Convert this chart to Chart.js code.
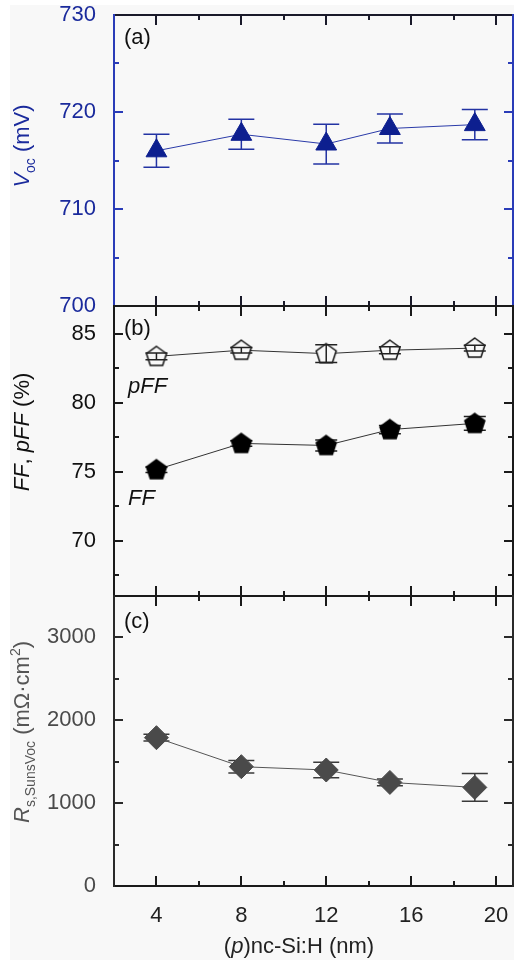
<!DOCTYPE html>
<html>
<head>
<meta charset="utf-8">
<script src="https://cdn.jsdelivr.net/npm/chart.js@4.4.1/dist/chart.umd.min.js"></script>
<style>
html, body { margin: 0; padding: 0; background: #fff; }
#wrap { position: relative; width: 514px; height: 960px; background: #fff; overflow: hidden; }
#bg { position: absolute; left: 10px; top: 5px; right: 0; bottom: 0; background: #f8f8f8; }
canvas { position: absolute; left: 0; }
</style>
</head>
<body>
<div id="wrap">
	<div id="bg"></div>
	<canvas id="chartA" width="514" height="320" style="top:0px"></canvas>
	<canvas id="chartB" width="514" height="320" style="top:290px"></canvas>
	<canvas id="chartC" width="514" height="380" style="top:580px"></canvas>
</div>
<script>
// (p)nc-Si:H thickness (nm)
const thickness = [4, 8, 12, 15, 19];

// (a) Voc (mV)
const voc    = [716.0, 717.7, 716.7, 718.3, 718.7];
const vocErr = [1.7, 1.55, 2.05, 1.5, 1.55];

// (b) pFF, FF (%)
const pff    = [83.35, 83.8, 83.55, 83.8, 83.95];
const pffErr = [0.25, 0.2, 0.65, 0.25, 0.2];
const ff     = [75.15, 77.05, 76.9, 78.05, 78.5];
const ffErr  = [0.2, 0.2, 0.4, 0.3, 0.5];

// (c) Rs,SunsVoc (mOhm cm2)
const rs    = [1790, 1440, 1400, 1250, 1190];
const rsErr = [40, 76, 94, 40, 167];

// tick labels
const xTicks   = [4, 8, 12, 16, 20];
const vocTicks = [700, 710, 720, 730];
const ffTicks  = [70, 75, 80, 85];
const rsTicks  = [0, 1000, 2000, 3000];

const FAMILY = '"Liberation Sans", Arial, Helvetica, sans-serif';
Chart.defaults.font.family = FAMILY;

function pts(ys)
{
	return thickness.map((x, i) => ({ x: x, y: ys[i] }));
}

// 五角形マーカー
function pentagon(fill, stroke)
{
	const c = document.createElement('canvas');
	c.width = 26; c.height = 26;
	const g = c.getContext('2d');
	const r = 10.5;
	g.beginPath();
	for (let k = 0; k < 5; k++) {
		const a = -Math.PI / 2 + k * 2 * Math.PI / 5;
		const px = 13 + r * Math.cos(a), py = 13.5 + r * Math.sin(a);
		if (k == 0) g.moveTo(px, py); else g.lineTo(px, py);
	}
	g.closePath();
	g.fillStyle = fill;
	g.fill();
	g.lineWidth = 1.5;
	g.strokeStyle = stroke;
	g.stroke();
	return c;
}

function drawRich(ctx, item)
{
	const size = item.size || 22;
	const fontOf = p => (p.i ? 'italic ' : '') + Math.round(p.s ? size * 0.64 : size) + 'px ' + FAMILY;
	let total = 0;
	item.parts.forEach(p => { ctx.font = fontOf(p); total += ctx.measureText(p.t).width; });
	ctx.save();
	ctx.translate(item.x, item.y);
	if (item.rot) ctx.rotate(-Math.PI / 2);
	ctx.fillStyle = item.color;
	ctx.textBaseline = 'alphabetic';
	ctx.textAlign = 'left';
	let x = item.align == 'left' ? 0 : -total / 2;
	const base = size * 0.36;
	item.parts.forEach(p => {
		ctx.font = fontOf(p);
		const dy = p.s == 'sub' ? size * 0.28 : (p.s == 'sup' ? -size * 0.42 : 0);
		ctx.fillText(p.t, x, base + dy);
		x += ctx.measureText(p.t).width;
	});
	ctx.restore();
}

function drawErrors(chart, onTop)
{
	const ctx = chart.ctx;
	const xs = chart.scales.x, ys = chart.scales.y;
	chart.data.datasets.forEach(ds => {
		if (!ds.errors || !!ds.errOnTop != onTop) return;
		ctx.save();
		ctx.strokeStyle = ds.errColor;
		ctx.lineWidth = 1.5;
		ds.data.forEach((p, j) => {
			const px = xs.getPixelForValue(p.x);
			const y1 = ys.getPixelForValue(p.y - ds.errors[j]);
			const y2 = ys.getPixelForValue(p.y + ds.errors[j]);
			ctx.beginPath();
			ctx.moveTo(px, y1); ctx.lineTo(px, y2);
			ctx.moveTo(px - ds.cap, y1); ctx.lineTo(px + ds.cap, y1);
			ctx.moveTo(px - ds.cap, y2); ctx.lineTo(px + ds.cap, y2);
			ctx.stroke();
		});
		ctx.restore();
	});
}

// 枠・内向き目盛・テキスト
const panelPlugin = {
	id: 'panel',
	beforeDatasetsDraw(chart) { drawErrors(chart, false); },
	afterDatasetsDraw(chart) { drawErrors(chart, true); },
	afterDraw(chart, args, o) {
		const ctx = chart.ctx;
		const xs = chart.scales.x, ys = chart.scales.y;
		const { left, right, top, bottom } = chart.chartArea;
		ctx.save();
		ctx.lineWidth = 2;
		ctx.lineCap = 'butt';

		// x ticks top/bottom
		ctx.strokeStyle = o.tbColor;
		ctx.beginPath();
		const xStep = xTicks[1] - xTicks[0];
		xTicks.forEach(v => {
			[[v, 10], [v + xStep / 2, 5]].forEach(([t, len]) => {
				if (t <= xs.min || t >= xs.max) return;
				const px = Math.round(xs.getPixelForValue(t));
				ctx.moveTo(px, top); ctx.lineTo(px, top + len);
				ctx.moveTo(px, bottom); ctx.lineTo(px, bottom - len);
			});
		});
		ctx.moveTo(left - 1, top); ctx.lineTo(right + 1, top);
		ctx.moveTo(left - 1, bottom); ctx.lineTo(right + 1, bottom);
		ctx.stroke();

		// y ticks left/right
		ctx.strokeStyle = o.sideColor;
		ctx.beginPath();
		const yt = o.yTicks;
		const yStep = yt[1] - yt[0];
		const marks = [];
		yt.forEach(v => marks.push([v, 9]));
		for (let v = yt[0] - yStep / 2; v < ys.max; v += yStep) marks.push([v, 5]);
		marks.forEach(([t, len]) => {
			if (t <= ys.min || t >= ys.max) return;
			const py = Math.round(ys.getPixelForValue(t));
			ctx.moveTo(left, py); ctx.lineTo(left + len, py);
			ctx.moveTo(right, py); ctx.lineTo(right - len, py);
		});
		ctx.moveTo(left, top - 1); ctx.lineTo(left, bottom + 1);
		ctx.moveTo(right, top - 1); ctx.lineTo(right, bottom + 1);
		ctx.stroke();
		ctx.restore();

		(o.texts || []).forEach(t => drawRich(ctx, t));
	}
};

function makeChart(id, datasets, yMin, yMax, yTickVals, yColor, panelOpts, showX, padding)
{
	const ctx = document.getElementById(id).getContext('2d');
	return new Chart(ctx, {
		type: 'line',
		data: { datasets: datasets },
		plugins: [panelPlugin],
		options: {
			responsive: false,
			animation: false,
			events: [],
			layout: { padding: padding, autoPadding: false },
			plugins: {
				legend: { display: false },
				tooltip: { enabled: false },
				panel: panelOpts
			},
			scales: {
				x: {
					type: 'linear',
					min: 2,
					max: 20.8,
					display: showX,
					afterBuildTicks: s => { s.ticks = xTicks.map(v => ({ value: v })); },
					afterFit: s => {
						s.height = showX ? 70 : 0;
						s.paddingLeft = 0; s.paddingRight = 0;
					},
					grid: { display: false },
					border: { display: false },
					ticks: { color: '#222', font: { size: 22 }, padding: 9, maxRotation: 0, callback: v => String(v) }
				},
				y: {
					type: 'linear',
					min: yMin,
					max: yMax,
					afterBuildTicks: s => { s.ticks = yTickVals.map(v => ({ value: v })); },
					afterFit: s => {
						s.width = 114;
						s.paddingTop = 0; s.paddingBottom = 0;
					},
					grid: { display: false },
					border: { display: false },
					ticks: { color: yColor, font: { size: 22 }, padding: 10, callback: v => String(v) }
				}
			}
		}
	});
}

const BLUE = '#0d1f8f';

// (a)
makeChart('chartA', [{
	data: pts(voc),
	borderColor: '#2a3aa8',
	borderWidth: 1,
	tension: 0,
	pointStyle: 'triangle',
	pointRadius: 12,
	pointBackgroundColor: BLUE,
	pointBorderColor: BLUE,
	pointBorderWidth: 1,
	errors: vocErr, errColor: '#2333a3', cap: 13, errOnTop: false
}], 700, 730, vocTicks, '#1a2a9c', {
	sideColor: '#2a3cb8', tbColor: '#1a1a2a', yTicks: vocTicks,
	texts: [
		{ x: 124, y: 36, align: 'left', color: '#111', parts: [{ t: '(a)' }] },
		{ x: 21, y: 146, rot: true, color: '#1a2a9c', parts: [{ t: 'V', i: true }, { t: 'oc', s: 'sub' }, { t: ' (mV)' }] }
	]
}, false, { top: 15, bottom: 14, left: 0, right: 1 });

// (b)
makeChart('chartB', [{
	data: pts(pff),
	borderColor: '#333',
	borderWidth: 1,
	tension: 0,
	pointStyle: pentagon('#f8f8f8', '#111'),
	errors: pffErr, errColor: '#222', cap: 11, errOnTop: true
}, {
	data: pts(ff),
	borderColor: '#333',
	borderWidth: 1,
	tension: 0,
	pointStyle: pentagon('#000', '#000'),
	errors: ffErr, errColor: '#222', cap: 11, errOnTop: false
}], 66, 87, ffTicks, '#111', {
	sideColor: '#1a1a1a', tbColor: '#1a1a1a', yTicks: ffTicks,
	texts: [
		{ x: 124, y: 37, align: 'left', color: '#111', parts: [{ t: '(b)' }] },
		{ x: 128, y: 95, align: 'left', color: '#111', parts: [{ t: 'pFF', i: true }] },
		{ x: 128, y: 207, align: 'left', color: '#111', parts: [{ t: 'FF', i: true }] },
		{ x: 21, y: 142, rot: true, color: '#111', parts: [{ t: 'FF', i: true }, { t: ', ' }, { t: 'pFF', i: true }, { t: ' (%)' }] }
	]
}, false, { top: 16, bottom: 14, left: 0, right: 1 });

// (c)
makeChart('chartC', [{
	data: pts(rs),
	borderColor: '#555',
	borderWidth: 1,
	tension: 0,
	pointStyle: 'rectRot',
	pointRadius: 12,
	pointBackgroundColor: '#4a4a4a',
	pointBorderColor: '#4a4a4a',
	pointBorderWidth: 1,
	errors: rsErr, errColor: '#3a3a3a', cap: 13, errOnTop: false
}], 0, 3500, rsTicks, '#4a4a4a', {
	sideColor: '#2a2a2a', tbColor: '#1a1a1a', yTicks: rsTicks,
	texts: [
		{ x: 124, y: 40, align: 'left', color: '#111', parts: [{ t: '(c)' }] },
		{ x: 21, y: 152, rot: true, color: '#555', parts: [{ t: 'R', i: true }, { t: 's,SunsVoc', s: 'sub' }, { t: ' (m\u03A9\u00B7cm' }, { t: '2', s: 'sup' }, { t: ')' }] },
		{ x: 299, y: 365, color: '#222', parts: [{ t: '(' }, { t: 'p', i: true }, { t: ')nc-Si:H (nm)' }] }
	]
}, true, { top: 16, bottom: 4, left: 0, right: 1 });
</script>
</body>
</html>
